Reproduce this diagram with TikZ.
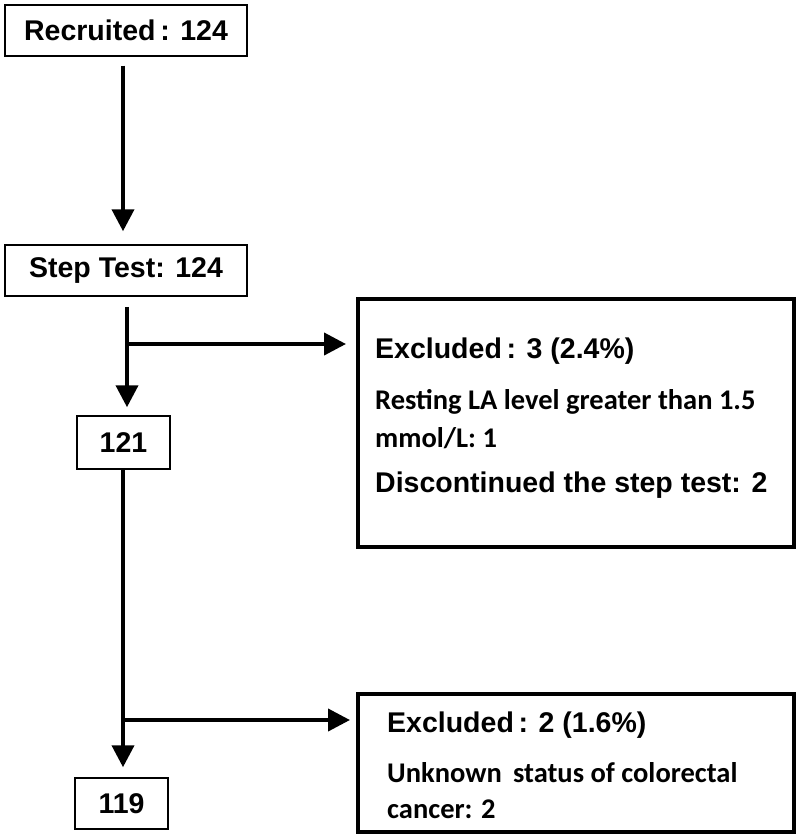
\documentclass[tikz,border=0pt]{standalone}
\usepackage{fontspec}
\setmainfont{Liberation Sans}
\newfontfamily\calfont{Carlito}
\usetikzlibrary{arrows.meta}
\begin{document}
\begin{tikzpicture}[x=1pt,y=-1pt,
  smallbox/.style={draw, line width=1.5pt, inner sep=0pt, font=\fontsize{28.5}{32}\selectfont\bfseries},
  bigbox/.style={draw, line width=4pt, inner sep=0pt, minimum width=436pt},
  arr/.style={line width=4pt, -{Triangle[length=22pt,width=22pt]}},
  lbl/.style={anchor=base west, inner sep=0pt, font=\fontsize{28.5}{32}\selectfont\bfseries},
  sub/.style={anchor=base west, inner sep=0pt, font=\calfont\fontsize{28.5}{32}\selectfont\bfseries},
  subb/.style={anchor=base west, inner sep=0pt, font=\calfont\fontsize{28.5}{32}\selectfont\bfseries}]
\useasboundingbox (0,0) rectangle (800,840);
% boxes
\node[smallbox, minimum width=242pt, minimum height=51pt] (rec) at (126,30.5) {Recruited\,: 124};
\node[smallbox, minimum width=242pt, minimum height=51pt] (step) at (126,270.5) {Step Test: 124};
\node[smallbox, minimum width=93pt, minimum height=53pt] (n121) at (123.5,442.5) {121};
\node[smallbox, minimum width=93pt, minimum height=51pt] (n119) at (121.5,803.5) {119};
\node[bigbox, minimum height=248pt] (ex1) at (576,423) {};
\node[bigbox, minimum height=138pt] (ex2) at (576,763) {};
% texts in exclusion boxes
\node[lbl] (e1t) at (375,358) {Excluded\,: 3 (2.4\%)};
\node[sub] (e1a) at (375,409) {Resting LA level greater than 1.5};
\node[sub] (e1b) at (375,447) {mmol/L: 1};
\node[lbl] (e1c) at (375,492) {Discontinued the step test: 2};
\node[lbl] (e2t) at (387,732) {Excluded\,: 2 (1.6\%)};
\node[subb] (e2a) at (387,782) {Unknown\, status of colorectal};
\node[subb] (e2b) at (387,818) {cancer: 2};
% connectors
\coordinate (j1) at (127,344);
\coordinate (j2) at (123,720);
\draw[arr, shorten <=9pt, shorten >=13pt] ([xshift=-3pt]rec.south) -- ([xshift=-3pt]step.north);
\draw[arr, shorten <=10pt, shorten >=8pt] ([xshift=1pt]step.south) -- ([xshift=1pt]step.south |- n121.north);
\draw[arr, shorten >=10pt] (j1) -- (j1 -| ex1.west);
\draw[arr, shorten >=10pt] ([xshift=-0.5pt]n121.south) -- ([xshift=-0.5pt]n121.south |- n119.north);
\draw[arr, shorten >=6pt] (j2) -- (j2 -| ex2.west);
\end{tikzpicture}
\end{document}
